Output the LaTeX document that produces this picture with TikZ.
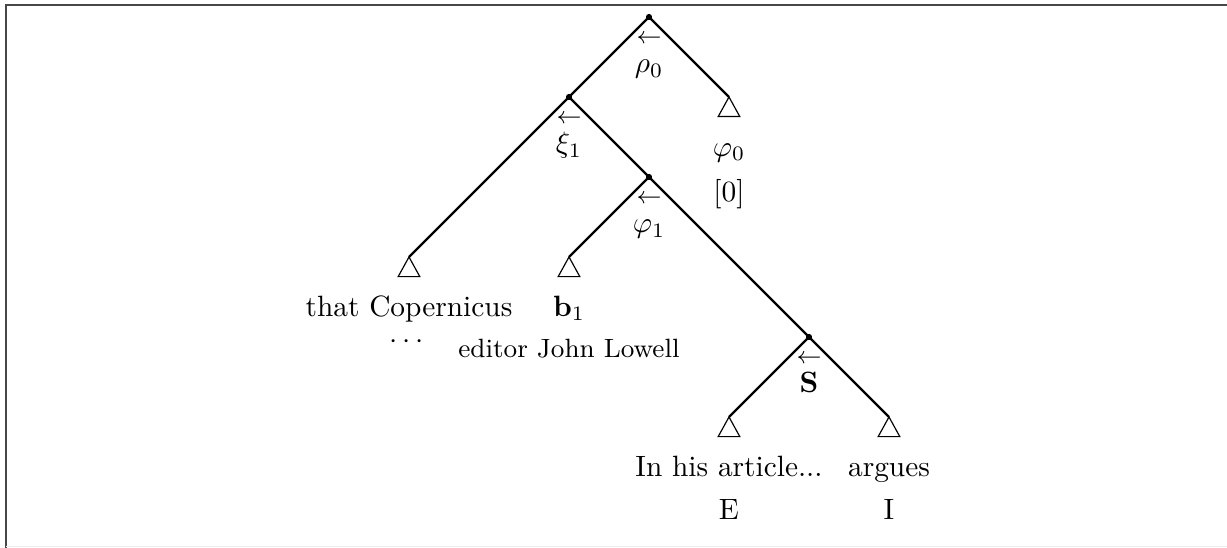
\documentclass[tikz,border=0pt]{standalone}
\usepackage{amsmath,amssymb,bm}
\usepackage{xcolor}
\usepackage{tikz}

\begin{document}
\begin{tikzpicture}[x=0.957cm,y=0.957cm,
    dot/.style={circle,fill,inner sep=0pt,minimum size=2.1pt},
    branch/.style={line width=0.8pt},
    tri/.style={line width=0.4pt},
    arr/.style={font=\footnotesize,anchor=base,inner sep=0pt,yshift=-0.32cm},
    lab/.style={anchor=base,inner sep=0pt,yshift=-0.67cm},
    leaf/.style={anchor=base,inner sep=0pt}]
    % frame of the page
    \useasboundingbox (-8.1125,-6.6375) rectangle (7.225,0.2125);
    \draw[black!72,line width=0.7pt] (-8.0375,-6.6375) -- (-8.0375,0.15) -- (7.225,0.15);
    \draw[black!7,line width=0.5pt] (-8.0375,-6.621) -- (7.225,-6.621);
    % inner vertices
    \node[dot] (rho) at (0,0) {};
    \node[dot] (xi) at (-1,-1) {};
    \node[dot] (phi) at (0,-2) {};
    \node[dot] (s) at (2,-4) {};
    % leaves (apex of the triangles)
    \coordinate (phi0) at (1,-1);
    \coordinate (cop) at (-3,-3);
    \coordinate (b) at (-1,-3);
    \coordinate (e) at (1,-5);
    \coordinate (i) at (3,-5);
    % branches
    \draw[branch] (rho.center) -- (xi.center);
    \draw[branch] (rho.center) -- (phi0);
    \draw[branch] (xi.center) -- (cop);
    \draw[branch] (xi.center) -- (phi.center);
    \draw[branch] (phi.center) -- (b);
    \draw[branch] (phi.center) -- (s.center);
    \draw[branch] (s.center) -- (e);
    \draw[branch] (s.center) -- (i);
    \foreach \t in {phi0,cop,b,e,i}
      \draw[tri] (\t) -- ++(-0.135,-0.245) -- ++(0.27,0) -- cycle;
    % labels of the inner vertices
    \node[arr] (rhoarr) at (rho) {$\leftarrow$};
    \node[lab] (rholab) at (rho) {$\rho_0$};
    \node[arr] (xiarr) at (xi) {$\leftarrow$};
    \node[lab] (xilab) at (xi) {$\xi_1$};
    \node[arr] (phiarr) at (phi) {$\leftarrow$};
    \node[lab] (philab) at (phi) {$\varphi_1$};
    \node[arr] (sarr) at (s) {$\leftarrow$};
    \node[lab] (slab) at (s) {$\mathbf{S}$};
    % labels of the leaves
    \node[leaf,yshift=-0.71cm] (phi0lab) at (phi0) {$\varphi_0$};
    \node[leaf,yshift=-1.256cm] (phi0idx) at (phi0) {$[0]$};
    \node[leaf,yshift=-0.71cm] (coplab) at (cop) {that Copernicus};
    \node[leaf,yshift=-1.09cm] (copdots) at (cop) {$\cdots$};
    \node[leaf,yshift=-0.71cm] (blab) at (b) {$\mathbf{b}_1$};
    \node[leaf,font=\small,yshift=-1.208cm] (bname) at (b) {editor John Lowell};
    \node[leaf,yshift=-0.71cm] (elab) at (e) {In his article...};
    \node[leaf,yshift=-1.232cm] (etag) at (e) {E};
    \node[leaf,yshift=-0.71cm] (ilab) at (i) {argues};
    \node[leaf,yshift=-1.232cm] (itag) at (i) {I};
\end{tikzpicture}
\end{document}
